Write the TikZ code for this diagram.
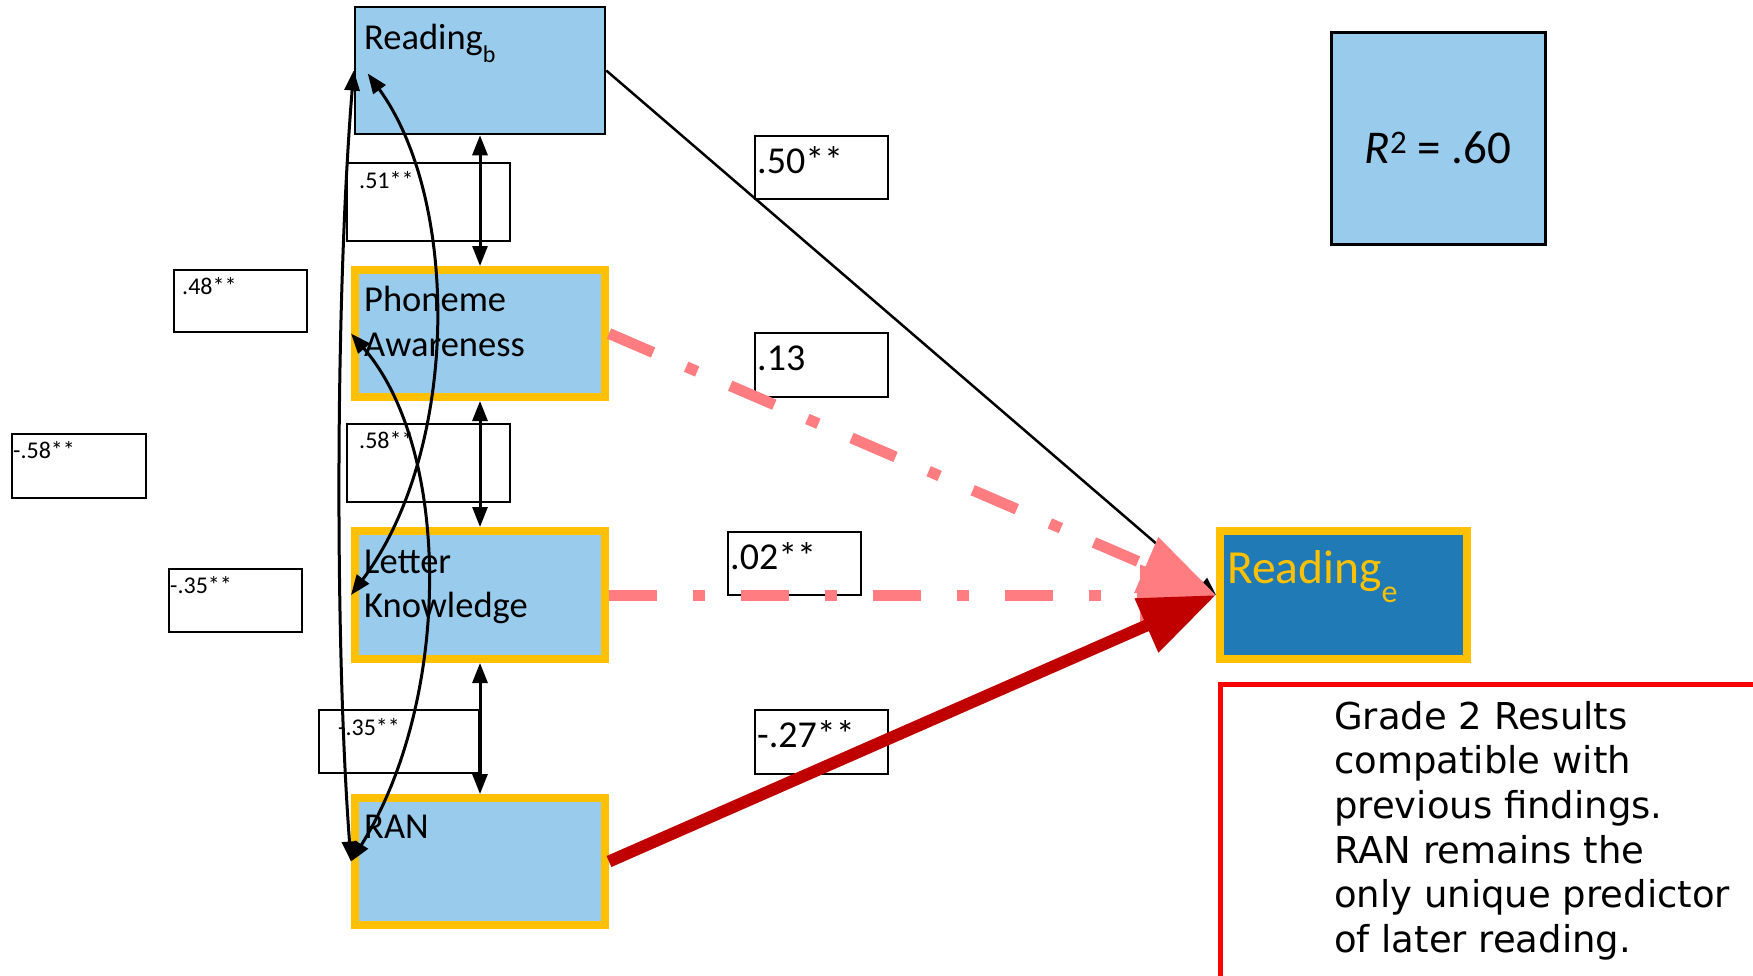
\documentclass[tikz,border=0pt]{standalone}
\usepackage{fontspec}
\setmainfont{Carlito}
\newfontfamily\verd{DejaVu Sans}
\usetikzlibrary{arrows.meta}
\definecolor{lb}{RGB}{152,203,236}
\definecolor{db}{RGB}{31,122,181}
\definecolor{yel}{RGB}{255,192,0}
\definecolor{pinkc}{RGB}{255,124,128}
\definecolor{dred}{RGB}{192,0,0}
\begin{document}
\begin{tikzpicture}[x=1pt,y=-1pt,
  bluebox/.style={draw=black, line width=2.5pt, fill=lb, minimum width=250pt, minimum height=127pt, inner sep=0pt},
  ybox/.style={draw=yel, line width=8pt, fill=lb, minimum width=250pt, minimum height=127pt, inner sep=0pt},
  lab/.style={draw=black, line width=2.5pt, fill=white, inner sep=0pt, minimum width=133pt, minimum height=63pt},
  txt/.style={anchor=base west, inner sep=0pt, font=\fontsize{36.5}{36.5}\selectfont},
  small/.style={anchor=base west, inner sep=0pt, font=\fontsize{24}{24}\selectfont},
  mid/.style={anchor=base west, inner sep=0pt, font=\fontsize{38}{38}\selectfont},
  note/.style={anchor=base west, inner sep=0pt, font=\verd\fontsize{37}{37}\selectfont},
  dbl/.style={line width=3pt, {Triangle[length=20pt,width=15pt]}-{Triangle[length=20pt,width=15pt]}},
  pinkline/.style={draw=pinkc, line width=11pt, dash pattern=on 48pt off 36pt on 12pt off 36pt, -{Triangle[length=76pt,width=58pt]}},
  redline/.style={draw=dred, line width=12pt, -{Triangle[length=76pt,width=56pt]}},
  blkline/.style={draw=black, line width=2.5pt, -{Triangle[length=18pt,width=14pt]}}
]
\useasboundingbox (0,0) rectangle (1753,975);

% main boxes
\node[bluebox] (rb) at (480,70.5) {};
\node[ybox] (pa) at (480,333.5) {};
\node[ybox, minimum height=128pt] (lk) at (480,595) {};
\node[ybox] (ran) at (480,861.5) {};
\node[ybox, fill=db, minimum width=247pt, minimum height=128pt] (re) at (1343.5,595) {};
\node[draw=black, line width=3pt, fill=lb, minimum width=214pt, minimum height=212pt, inner sep=0pt] (r2) at (1438.5,138.5) {};
\node[draw=red, line width=5pt, minimum width=560pt, minimum height=320pt, inner sep=0pt] (nb) at (1500,844.5) {};

% label boxes
\node[lab, minimum width=163pt, minimum height=78pt] (b51) at (428.5,202) {};
\node[lab, minimum width=163pt, minimum height=78pt] (b58) at (428.5,463) {};
\node[lab, minimum width=160pt, minimum height=63pt] (b35m) at (399,741.5) {};
\node[lab, minimum height=62pt] (b48) at (240.5,301) {};
\node[lab, minimum width=134pt, minimum height=64pt] (b58l) at (79,466) {};
\node[lab] (b35l) at (235.5,600.5) {};
\node[lab] (b50) at (821.5,167.5) {};
\node[lab, minimum height=64pt] (b13) at (821.5,365) {};
\node[lab] (b02) at (794.5,563.5) {};
\node[lab, minimum height=64pt] (b27) at (821.5,742) {};

% texts in boxes
\node[txt] (trb) at (364,49) {Reading\raisebox{-13pt}{\fontsize{24}{24}\selectfont b}};
\node[txt] (tpa1) at (364,311) {Phoneme};
\node[txt] (tpa2) at (364,356) {Awareness};
\node[txt] (tlk1) at (364,573) {Letter};
\node[txt] (tlk2) at (364,617) {Knowledge};
\node[txt] (tran) at (364,838) {RAN};
\node[txt, text=yel, font=\fontsize{47.5}{47.5}\selectfont] (tre) at (1227,583) {Reading\raisebox{-19pt}{\fontsize{32}{32}\selectfont e}};
\node[anchor=base, inner sep=0pt, font=\fontsize{47}{47}\selectfont] (tr2) at (1438,163) {{\itshape R}\textsuperscript{2} = .60};

\node[small] (t51) at (359,188) {.51**};
\node[small] (t58) at (359,448) {.58**};
\node[small] (t35m) at (338,735) {-.35**};
\node[small] (t48) at (182,294) {.48**};
\node[small] (t58l) at (13,458) {-.58**};
\node[small] (t35l) at (170,593) {-.35**};
\node[mid] (t50) at (757,173) {.50**};
\node[mid] (t13) at (757,370) {.13};
\node[mid] (t02) at (730,569) {.02**};
\node[mid] (t27) at (757,747) {-.27**};

\node[note] (n1) at (1334,729) {Grade 2 Results};
\node[note] (n2) at (1334,773.5) {compatible with};
\node[note] (n3) at (1334,818) {previous findings.};
\node[note] (n4) at (1334,863) {RAN remains the};
\node[note] (n5) at (1334,907.5) {only unique predictor};
\node[note] (n6) at (1334,952) {of later reading.};

% vertical correlations
\draw[dbl] (rb.south) -- (pa.north);
\draw[dbl] (pa.south) -- (lk.north);
\draw[dbl] (lk.south) -- (ran.north);

% curved correlations
\draw[dbl] (rb.west) .. controls (335,300) and (335,650) .. (ran.west);
\draw[dbl] ([xshift=14pt,yshift=-3pt]rb.west) .. controls (460,200) and (460,450) .. (lk.west);
\draw[dbl] (pa.west) .. controls (452,450) and (452,700) .. (ran.west);

% paths to Reading_e
\draw[blkline] (rb.east) -- (re.west);
\draw[pinkline] (pa.east) -- (re.west);
\draw[pinkline] (lk.east) -- (re.west);
\draw[redline] (ran.east) -- (re.west);
\end{tikzpicture}
\end{document}
